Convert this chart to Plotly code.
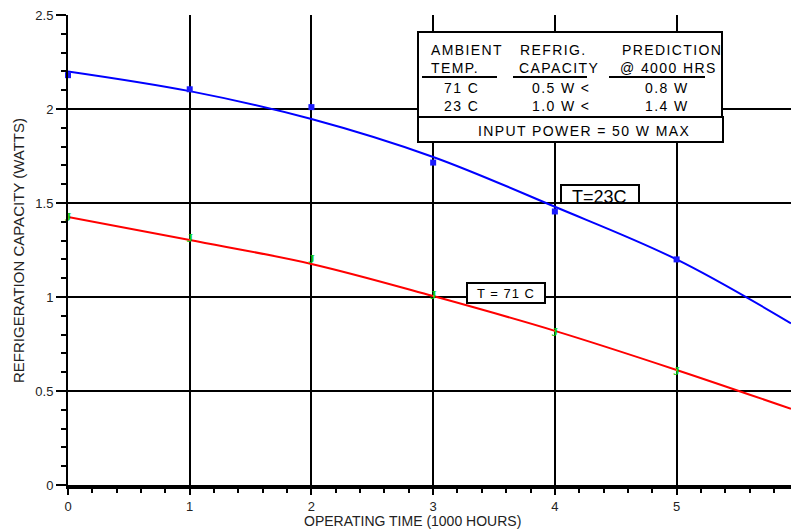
import plotly.graph_objects as go

# ---- data ----
pts_x = [0, 1, 2, 3, 4, 5]
blue_pts = [2.18, 2.105, 2.01, 1.715, 1.455, 1.20]   # T=23C measured
green_pts = [1.42, 1.31, 1.20, 1.005, 0.81, 0.60]    # T=71C measured
curve_x = [0, 1, 2, 3, 4, 5, 5.94]
blue_curve = [2.20, 2.095, 1.947, 1.745, 1.48, 1.20, 0.86]
red_curve = [1.426, 1.303, 1.176, 1.005, 0.82, 0.612, 0.405]

x_ticks = [0, 1, 2, 3, 4, 5]
y_ticks = [0, 0.5, 1, 1.5, 2, 2.5]
y_tick_text = ["0", "0.5", "1", "1.5", "2", "2.5"]

table_rows = [
    ["AMBIENT", "REFRIG.", "PREDICTION"],
    ["TEMP.", "CAPACITY", "@ 4000 HRS"],
    ["71 C", "0.5 W <", "0.8 W"],
    ["23 C", "1.0 W <", "1.4 W"],
]
footer_text = "INPUT POWER = 50 W MAX"

# ---- layout geometry (pixels) ----
W, H = 791, 531
L, R, T, B = 68, 0, 15, 46
PW, PH = W - L - R, H - T - B


def px(x):
    return (x - L) / PW


def py(y):
    return (H - B - y) / PH


FONT = "Liberation Sans, Arial, sans-serif"

fig = go.Figure()
fig.add_trace(go.Scatter(x=curve_x, y=blue_curve, mode="lines",
                         line=dict(color="#0000ff", width=2, shape="spline"),
                         showlegend=False))
fig.add_trace(go.Scatter(x=curve_x, y=red_curve, mode="lines",
                         line=dict(color="#ff0000", width=2, shape="spline"),
                         showlegend=False))
fig.add_trace(go.Scatter(x=pts_x, y=blue_pts, mode="markers",
                         marker=dict(symbol="square", size=6, color="#1a1aff"),
                         showlegend=False, cliponaxis=False))
fig.add_trace(go.Scatter(x=pts_x, y=green_pts, mode="text", text=["J"] * len(pts_x),
                         textfont=dict(family="Liberation Serif, serif", size=13,
                                       color="#11cc11", weight="bold"),
                         showlegend=False, cliponaxis=False))

shapes = []
annotations = []

# table box
shapes.append(dict(type="rect", xref="paper", yref="paper",
                   x0=px(418), x1=px(722), y0=py(117), y1=py(32),
                   line=dict(color="black", width=2), fillcolor="white", layer="above"))
shapes.append(dict(type="rect", xref="paper", yref="paper",
                   x0=px(418), x1=px(723), y0=py(142), y1=py(117),
                   line=dict(color="black", width=2), fillcolor="white", layer="above"))
# underlines
for a, b in [(422, 497), (513, 587), (609, 705)]:
    shapes.append(dict(type="line", xref="paper", yref="paper",
                       x0=px(a), x1=px(b), y0=py(77), y1=py(77),
                       line=dict(color="black", width=2), layer="above"))

col_left = [[429, 518, 620], [429, 517, 618], [442, 530, 643], [442, 530, 643]]
row_y = [50, 68, 88, 106]
for r, row in enumerate(table_rows):
    for c, txt in enumerate(row):
        annotations.append(dict(
            xref="paper", yref="paper", x=px(col_left[r][c]), y=py(row_y[r]),
            xanchor="left", yanchor="middle", showarrow=False,
            text='<span style="letter-spacing:1.4px">%s</span>' % txt,
            font=dict(family=FONT, size=14, color="black")))
annotations.append(dict(
    xref="paper", yref="paper", x=px(584), y=py(131), xanchor="center", yanchor="middle",
    showarrow=False, text='<span style="letter-spacing:1.4px">%s</span>' % footer_text,
    font=dict(family=FONT, size=14, color="black")))

# T=23C label box
shapes.append(dict(type="rect", xref="paper", yref="paper",
                   x0=px(561), x1=px(639), y0=py(203), y1=py(185),
                   line=dict(color="black", width=2), fillcolor="white", layer="above"))
annotations.append(dict(xref="paper", yref="paper", x=px(599), y=py(197),
                        xanchor="center", yanchor="middle", showarrow=False,
                        text="T=23C", font=dict(family=FONT, size=18, color="black")))
# T = 71 C label box
shapes.append(dict(type="rect", xref="paper", yref="paper",
                   x0=px(467), x1=px(545), y0=py(303), y1=py(283),
                   line=dict(color="black", width=2), fillcolor="white", layer="above"))
annotations.append(dict(xref="paper", yref="paper", x=px(506), y=py(293),
                        xanchor="center", yanchor="middle", showarrow=False,
                        text='<span style="letter-spacing:1px">T = 71 C</span>',
                        font=dict(family=FONT, size=13, color="black")))

# axis titles
annotations.append(dict(xref="paper", yref="paper", x=px(412), y=py(521),
                        xanchor="center", yanchor="middle", showarrow=False,
                        text="OPERATING TIME (1000 HOURS)",
                        font=dict(family=FONT, size=14, color="#222")))
annotations.append(dict(xref="paper", yref="paper", x=px(18), y=py(251),
                        xanchor="center", yanchor="middle", showarrow=False, textangle=-90,
                        text="REFRIGERATION CAPACITY (WATTS)",
                        font=dict(family=FONT, size=15, color="#222")))

fig.update_layout(
    width=W, height=H, margin=dict(l=L, r=R, t=T, b=B, autoexpand=False),
    paper_bgcolor="white", plot_bgcolor="white",
    shapes=shapes, annotations=annotations,
    xaxis=dict(range=[0, 5.94], tickvals=x_ticks, ticktext=[str(v) for v in x_ticks],
               showgrid=True, gridcolor="black", gridwidth=2,
               zeroline=False, showline=True, linecolor="black", linewidth=4,
               ticks="outside", ticklen=6, tickwidth=2, tickcolor="black",
               minor=dict(dtick=0.2, tick0=0, ticks="outside", ticklen=4, tickwidth=2,
                          tickcolor="black", showgrid=False),
               tickfont=dict(family=FONT, size=13, color="#222"), fixedrange=True),
    yaxis=dict(range=[0, 2.5], tickvals=y_ticks, ticktext=y_tick_text,
               showgrid=True, gridcolor="black", gridwidth=2,
               zeroline=False, showline=True, linecolor="black", linewidth=2,
               ticks="outside", ticklen=10, tickwidth=2, tickcolor="black",
               minor=dict(dtick=0.1, tick0=0, ticks="outside", ticklen=5, tickwidth=2,
                          tickcolor="black", showgrid=False),
               tickfont=dict(family=FONT, size=13, color="#222"), fixedrange=True),
)

fig.write_html("out.html", config={"displayModeBar": False},
               post_script="document.body.style.margin='0px';")
